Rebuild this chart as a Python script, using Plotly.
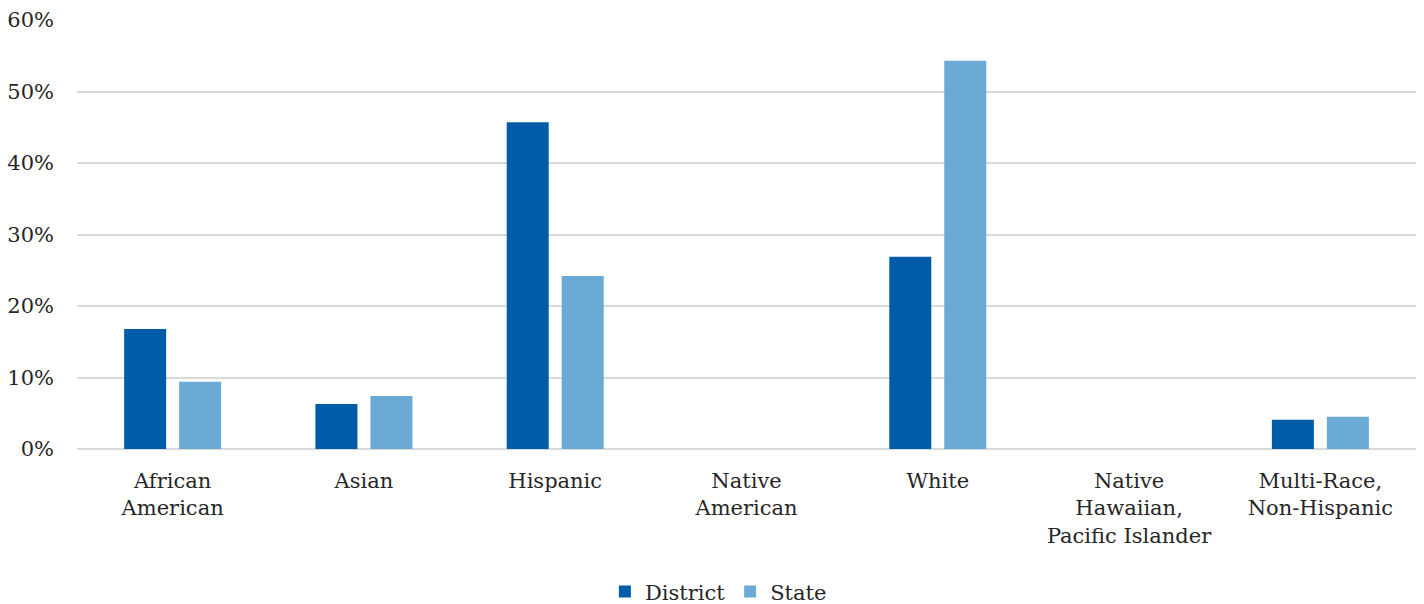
import plotly.graph_objects as go

categories = ["African<br>American", "Asian", "Hispanic", "Native<br>American", "White",
              "Native<br>Hawaiian,<br>Pacific Islander", "Multi-Race,<br>Non-Hispanic"]
district = [16.8, 6.3, 45.7, 0.0, 26.9, 0.0, 4.1]
state = [9.4, 7.4, 24.2, 0.0, 54.3, 0.0, 4.5]
y_ticks = [0, 10, 20, 30, 40, 50, 60]
y_tick_labels = ["0%", "10%", "20%", "30%", "40%", "50%", "60%"]

FONT = "Century Schoolbook, 'DejaVu Serif', serif"

fig = go.Figure()
fig.add_trace(go.Bar(name="District", x=categories, y=district,
                     marker=dict(color="#005CA9", line=dict(width=0))))
fig.add_trace(go.Bar(name="State", x=categories, y=state,
                     marker=dict(color="#6AAAD5", line=dict(width=0))))

fig.update_layout(
    width=1424, height=604,
    margin=dict(l=77, r=8, t=20, b=155, autoexpand=False),
    paper_bgcolor="white", plot_bgcolor="white",
    barmode="group", bargap=0.425, bargroupgap=0.236,
    font=dict(family=FONT, size=21, color="#262626"),
    showlegend=True,
    legend=dict(orientation="h", x=0.479, xanchor="center", y=-0.333, yanchor="middle",
                font=dict(size=21), traceorder="normal", itemwidth=30),
    xaxis=dict(showgrid=False, showline=False, ticks="", tickfont=dict(size=21),
               ticklabelstandoff=17, automargin=False),
    yaxis=dict(range=[0, 60], tickvals=y_ticks, ticktext=y_tick_labels,
               showgrid=True, gridcolor="#D9D9D9", gridwidth=2,
               zeroline=True, zerolinecolor="#D9D9D9", zerolinewidth=2,
               showline=False, ticks="", ticklabelstandoff=22, tickfont=dict(size=21),
               automargin=False),
)

fig.write_html("out.html", config={"displayModeBar": False},
               post_script="document.body.style.margin='0';document.body.style.overflow='hidden';")
